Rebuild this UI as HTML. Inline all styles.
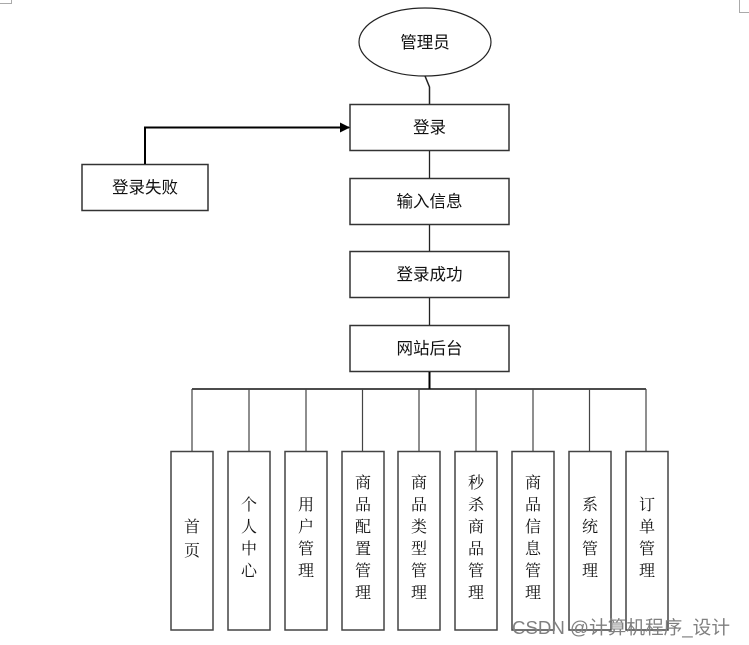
<!DOCTYPE html>
<html><head><meta charset="utf-8"><style>
html,body{margin:0;padding:0;background:#fff;width:749px;height:645px;overflow:hidden}
svg{display:block}
.h{font-family:"Liberation Sans","Noto Sans CJK SC",sans-serif;font-size:16.5px;fill:#111}
.v{font-family:"Liberation Serif","Noto Serif CJK SC",serif;font-size:16px;fill:#111}
.wm{font-family:"Liberation Sans","Noto Sans CJK SC",sans-serif;font-size:18.5px;fill:#808080}
</style></head><body>
<svg width="749" height="645" viewBox="0 0 749 645" xmlns="http://www.w3.org/2000/svg">
<defs>
<marker id="ah" markerWidth="10" markerHeight="10" refX="9" refY="5" orient="auto" markerUnits="userSpaceOnUse">
<path d="M0,0 L10,5 L0,10 Z" fill="#000"/>
</marker>
</defs>
<!-- corner marks -->
<path d="M0,3.5 H11.5 V0" fill="none" stroke="#aaa" stroke-width="1"/>
<path d="M739.5,0 V12.5 H749" fill="none" stroke="#aaa" stroke-width="1"/>

<!-- ellipse -->
<ellipse cx="425" cy="42" rx="66" ry="34" fill="#fff" stroke="#222" stroke-width="1.2"/>
<text class="h" x="425" y="48" text-anchor="middle">管理员</text>
<path d="M425,76 L429.5,87 V104" fill="none" stroke="#222" stroke-width="1.5"/>

<!-- main boxes -->
<g fill="#fff" stroke="#333" stroke-width="1.5">
<rect x="350" y="104.5" width="159" height="46"/>
<rect x="82" y="164.5" width="126" height="46"/>
<rect x="350" y="178.5" width="159" height="46"/>
<rect x="350" y="251.5" width="159" height="46"/>
<rect x="350" y="325.5" width="159" height="46"/>
</g>
<text class="h" x="429.5" y="133" text-anchor="middle">登录</text>
<text class="h" x="145" y="193" text-anchor="middle">登录失败</text>
<text class="h" x="429.5" y="207" text-anchor="middle">输入信息</text>
<text class="h" x="429.5" y="280" text-anchor="middle">登录成功</text>
<text class="h" x="429.5" y="354" text-anchor="middle">网站后台</text>

<!-- arrow from 登录失败 -->
<path d="M145,164 V127.5 H349" fill="none" stroke="#000" stroke-width="2" marker-end="url(#ah)"/>

<!-- vertical connectors -->
<g stroke="#222" stroke-width="1.3">
<line x1="429.5" y1="151" x2="429.5" y2="178"/>
<line x1="429.5" y1="225" x2="429.5" y2="251"/>
<line x1="429.5" y1="298" x2="429.5" y2="325"/>
</g>
<line x1="429.5" y1="372" x2="429.5" y2="389" stroke="#000" stroke-width="2"/>
<line x1="192" y1="389" x2="646" y2="389" stroke="#111" stroke-width="1.6"/>
<g stroke="#444" stroke-width="1.2">
<line x1="192" y1="389" x2="192" y2="451"/>
<line x1="249" y1="389" x2="249" y2="451"/>
<line x1="306" y1="389" x2="306" y2="451"/>
<line x1="362.5" y1="389" x2="362.5" y2="451"/>
<line x1="419" y1="389" x2="419" y2="451"/>
<line x1="476" y1="389" x2="476" y2="451"/>
<line x1="533" y1="389" x2="533" y2="451"/>
<line x1="589.5" y1="389" x2="589.5" y2="451"/>
<line x1="646" y1="389" x2="646" y2="451"/>
</g>

<!-- bottom boxes -->
<g fill="#fff" stroke="#444" stroke-width="1.5">
<rect x="171" y="451.5" width="42" height="178.5"/>
<rect x="228" y="451.5" width="42" height="178.5"/>
<rect x="285" y="451.5" width="42" height="178.5"/>
<rect x="342" y="451.5" width="42" height="178.5"/>
<rect x="398" y="451.5" width="42" height="178.5"/>
<rect x="455" y="451.5" width="42" height="178.5"/>
<rect x="512" y="451.5" width="42" height="178.5"/>
<rect x="569" y="451.5" width="42" height="178.5"/>
<rect x="626" y="451.5" width="42" height="178.5"/>
</g>

<g class="v" text-anchor="middle">
<text x="192" y="532">首</text><text x="192" y="556">页</text>

<text x="249" y="510">个</text><text x="249" y="532">人</text><text x="249" y="554">中</text><text x="249" y="576">心</text>

<text x="306" y="510">用</text><text x="306" y="532">户</text><text x="306" y="554">管</text><text x="306" y="576">理</text>

<text x="363" y="488">商</text><text x="363" y="510">品</text><text x="363" y="532">配</text><text x="363" y="554">置</text><text x="363" y="576">管</text><text x="363" y="598">理</text>

<text x="419" y="488">商</text><text x="419" y="510">品</text><text x="419" y="532">类</text><text x="419" y="554">型</text><text x="419" y="576">管</text><text x="419" y="598">理</text>

<text x="476" y="488">秒</text><text x="476" y="510">杀</text><text x="476" y="532">商</text><text x="476" y="554">品</text><text x="476" y="576">管</text><text x="476" y="598">理</text>

<text x="533" y="488">商</text><text x="533" y="510">品</text><text x="533" y="532">信</text><text x="533" y="554">息</text><text x="533" y="576">管</text><text x="533" y="598">理</text>

<text x="590" y="510">系</text><text x="590" y="532">统</text><text x="590" y="554">管</text><text x="590" y="576">理</text>

<text x="647" y="510">订</text><text x="647" y="532">单</text><text x="647" y="554">管</text><text x="647" y="576">理</text>
</g>

<text class="wm" x="512" y="634" textLength="218" lengthAdjust="spacingAndGlyphs">CSDN @计算机程序_设计</text>
</svg>
</body></html>
